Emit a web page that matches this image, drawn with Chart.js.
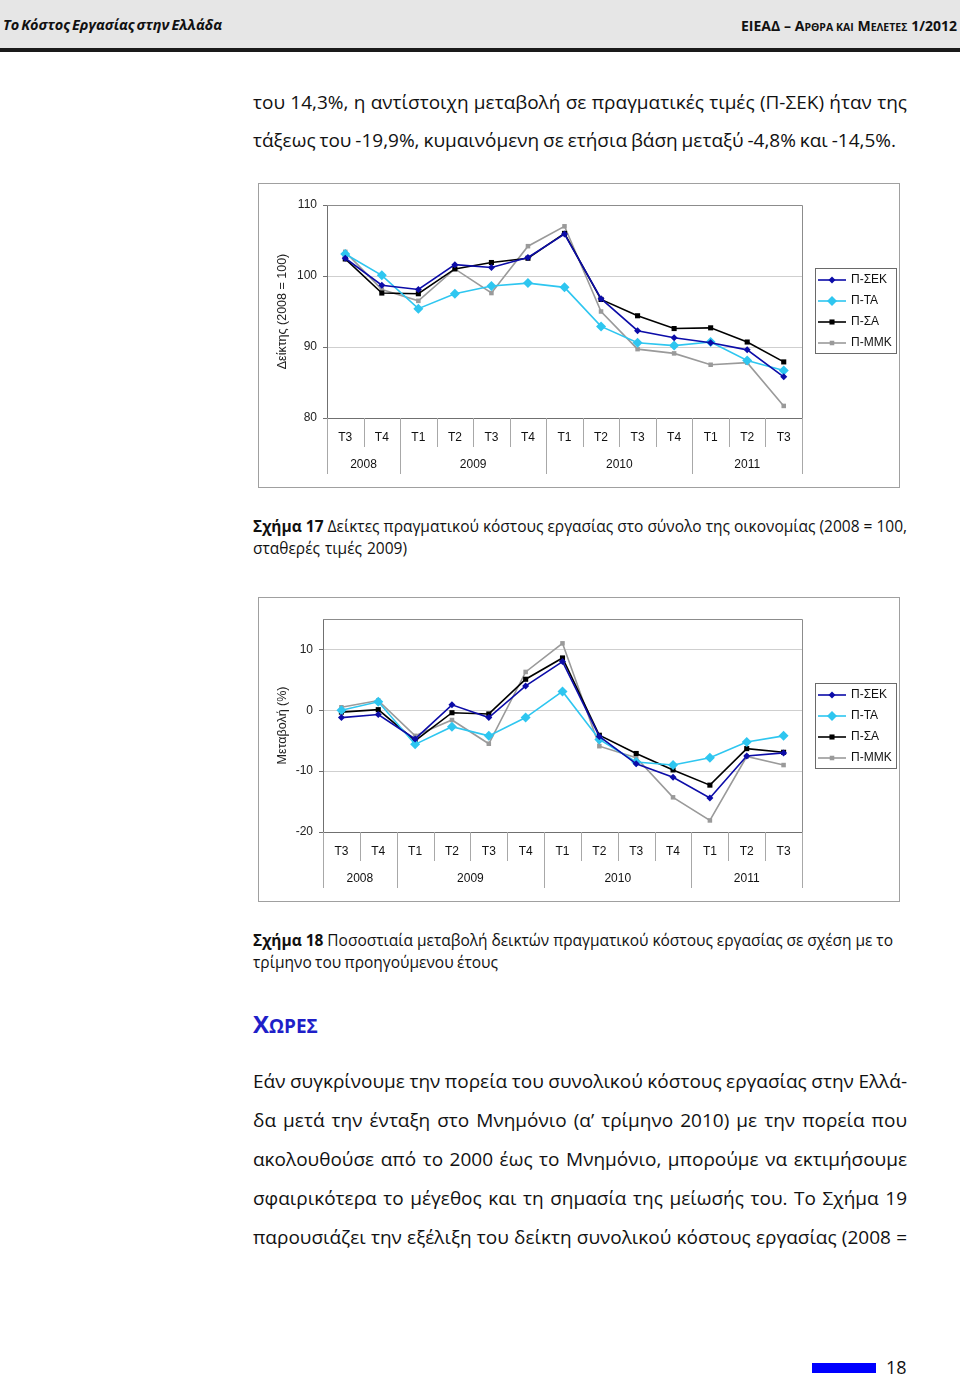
<!DOCTYPE html>
<html lang="el">
<head>
<meta charset="utf-8">
<title>Το Κόστος Εργασίας στην Ελλάδα</title>
<script src="https://cdn.jsdelivr.net/npm/chart.js@4.4.1/dist/chart.umd.min.js"></script>
<style>
html, body { margin: 0; padding: 0; background: #fff; }
#page { position: relative; width: 960px; height: 1377px; overflow: hidden; font-family: 'Open Sans', 'Noto Sans', sans-serif; color: #111; }
.hdr { position: absolute; left: 0; top: 0; width: 960px; height: 48px; background: #e6e6e6; }
.hdrline { position: absolute; left: 0; top: 48px; width: 960px; height: 4px; background: #1a1a1a; }
.ln { position: absolute; white-space: nowrap; line-height: 1; }
.body { left: 253px; font-size: 19px; }
.cap { left: 253px; font-size: 15.5px; }
.sc { font-size: 10.5px; }
canvas { position: absolute; }
</style>
</head>
<body>
<div id="page">
  <div class="hdr"></div>
  <div class="hdrline"></div>
  <div class="ln" data-w="219" style="left:3px;top:18px;font-size:14.5px;font-weight:700;font-style:italic;">Το Κόστος Εργασίας στην Ελλάδα</div>
  <div class="ln" data-w="216" style="right:3px;top:19px;font-size:14px;font-weight:700;">ΕΙΕΑΔ – Α<span class="sc">ΡΘΡΑ ΚΑΙ</span> Μ<span class="sc">ΕΛΕΤΕΣ</span> 1/2012</div>

  <div class="ln body" data-w="654" style="top:93px;">του 14,3%, η αντίστοιχη μεταβολή σε πραγματικές τιμές (Π-ΣΕΚ) ήταν της</div>
  <div class="ln body" data-w="643" style="top:131px;">τάξεως του -19,9%, κυμαινόμενη σε ετήσια βάση μεταξύ -4,8% και -14,5%.</div>

  <canvas id="chart1" width="642" height="305" style="left:258px;top:183px;"></canvas>

  <div class="ln cap" data-w="654" style="top:519px;"><b>Σχήμα 17</b> Δείκτες πραγματικού κόστους εργασίας στο σύνολο της οικονομίας (2008 = 100,</div>
  <div class="ln cap" data-w="154" style="top:541px;">σταθερές τιμές 2009)</div>

  <canvas id="chart2" width="642" height="305" style="left:258px;top:597px;"></canvas>

  <div class="ln cap" data-w="640" style="top:933px;"><b>Σχήμα 18</b> Ποσοστιαία μεταβολή δεικτών πραγματικού κόστους εργασίας σε σχέση με το</div>
  <div class="ln cap" data-w="245" style="top:955px;">τρίμηνο του προηγούμενου έτους</div>

  <div class="ln" style="left:253px;top:1012px;font-size:24px;font-weight:700;color:#1f1fc8;">Χ<span style="font-size:19px;">ΩΡΕΣ</span></div>

  <div class="ln body" data-w="654" style="top:1072px;">Εάν συγκρίνουμε την πορεία του συνολικού κόστους εργασίας στην Ελλά-</div>
  <div class="ln body" data-w="654" style="top:1111px;">δα μετά την ένταξη στο Μνημόνιο (α’ τρίμηνο 2010) με την πορεία που</div>
  <div class="ln body" data-w="654" style="top:1150px;">ακολουθούσε από το 2000 έως το Μνημόνιο, μπορούμε να εκτιμήσουμε</div>
  <div class="ln body" data-w="654" style="top:1189px;">σφαιρικότερα το μέγεθος και τη σημασία της μείωσής του. Το Σχήμα 19</div>
  <div class="ln body" data-w="654" style="top:1228px;">παρουσιάζει την εξέλιξη του δείκτη συνολικού κόστους εργασίας (2008 =</div>

  <div style="position:absolute;left:812px;top:1363px;width:64px;height:10px;background:#0000ff;"></div>
  <div class="ln" style="left:886px;top:1358px;font-size:18px;">18</div>
</div>

<script>
// --- DATA ---
const quarterLabels = ['Τ3', 'Τ4', 'Τ1', 'Τ2', 'Τ3', 'Τ4', 'Τ1', 'Τ2', 'Τ3', 'Τ4', 'Τ1', 'Τ2', 'Τ3'];
const yearLabels = ['2008', '2009', '2010', '2011'];
const yearSizes = [2, 4, 4, 3];
const seriesNames = ['Π-ΣΕΚ', 'Π-ΤΑ', 'Π-ΣΑ', 'Π-ΜΜΚ'];

// Σχήμα 17: δείκτες (2008 = 100)
const indexSEK = [102.5, 98.7, 98.1, 101.6, 101.2, 102.6, 105.9, 96.8, 92.3, 91.3, 90.6, 89.6, 85.8];
const indexTA  = [103.1, 100.1, 95.4, 97.5, 98.6, 99.0, 98.4, 92.9, 90.6, 90.2, 90.7, 88.1, 86.7];
const indexSA  = [102.4, 97.6, 97.5, 101.0, 101.9, 102.5, 106.0, 96.7, 94.4, 92.6, 92.7, 90.7, 87.9];
const indexMMK = [103.4, 98.1, 96.5, 101.0, 97.6, 104.2, 107.0, 95.0, 89.7, 89.1, 87.5, 87.8, 81.7];
const indexTicks = [80, 90, 100, 110];

// Σχήμα 18: μεταβολή (%)
const changeSEK = [-1.2, -0.7, -4.7, 0.9, -1.2, 4.0, 8.0, -4.3, -8.8, -11.0, -14.4, -7.5, -7.0];
const changeTA  = [0.0, 1.4, -5.6, -2.7, -4.2, -1.2, 3.1, -4.8, -8.5, -9.0, -7.8, -5.2, -4.2];
const changeSA  = [-0.3, 0.1, -5.0, -0.4, -0.6, 5.1, 8.6, -4.1, -7.1, -9.8, -12.3, -6.3, -6.9];
const changeMMK = [0.5, 1.6, -4.2, -1.6, -5.5, 6.3, 11.0, -5.9, -7.8, -14.3, -18.1, -7.6, -9.0];
const changeTicks = [-20, -10, 0, 10];

// --- STYLE ---
const FONT = "'Liberation Sans', Arial, sans-serif";
const seriesStyle = [
    { color: '#0c0ca8', point: 'rectRot', r: 3.5 },
    { color: '#2ec6f0', point: 'rectRot', r: 5 },
    { color: '#000000', point: 'rect', r: 3.6 },
    { color: '#9a9a9a', point: 'rect', r: 3.2 }
];

function drawMarker(ctx, style, x, y, r, color) {
    ctx.fillStyle = color;
    ctx.beginPath();
    if (style === 'rectRot') {
        ctx.moveTo(x, y - r); ctx.lineTo(x + r, y); ctx.lineTo(x, y + r); ctx.lineTo(x - r, y);
        ctx.closePath();
    } else {
        const h = r * Math.SQRT1_2;
        ctx.rect(x - h, y - h, 2 * h, 2 * h);
    }
    ctx.fill();
}

// frame, plot border, two-level category axis and legend, Excel style
function excelLook(legendTop) {
    return {
        id: 'excelLook',
        afterDraw(chart) {
            const ctx = chart.ctx, a = chart.chartArea, xs = chart.scales.x;
            ctx.save();
            ctx.lineWidth = 1;
            ctx.strokeStyle = '#a0a0a0';
            ctx.strokeRect(0.5, 0.5, chart.width - 1, chart.height - 1);

            ctx.strokeStyle = '#8c8c8c';
            ctx.beginPath();
            ctx.moveTo(a.left, Math.round(a.top) + 0.5);
            ctx.lineTo(Math.round(a.right) + 0.5, Math.round(a.top) + 0.5);
            ctx.lineTo(Math.round(a.right) + 0.5, a.bottom);
            ctx.stroke();

            const n = quarterLabels.length;
            const bounds = [];
            for (let b = 0; b <= n; b++) {
                if (b === 0) bounds.push(a.left);
                else if (b === n) bounds.push(a.right);
                else bounds.push((xs.getPixelForValue(b - 1) + xs.getPixelForValue(b)) / 2);
            }
            const groupEdges = [0];
            yearSizes.reduce((s, v) => { groupEdges.push(s + v); return s + v; }, 0);

            ctx.strokeStyle = '#a8a8a8';
            bounds.forEach((px, b) => {
                const long = groupEdges.includes(b);
                const xx = Math.round(px) + 0.5;
                ctx.beginPath();
                ctx.moveTo(xx, a.bottom);
                ctx.lineTo(xx, a.bottom + (long ? 56 : 29));
                ctx.stroke();
            });

            ctx.fillStyle = '#111';
            ctx.font = '12px ' + FONT;
            ctx.textAlign = 'center';
            ctx.textBaseline = 'middle';
            quarterLabels.forEach((q, i) => ctx.fillText(q, xs.getPixelForValue(i), a.bottom + 20));
            let start = 0;
            yearLabels.forEach((yl, g) => {
                const end = start + yearSizes[g];
                ctx.fillText(yl, (bounds[start] + bounds[end]) / 2, a.bottom + 47);
                start = end;
            });

            // legend
            const lx = 557;
            ctx.strokeStyle = '#6a6a6a';
            ctx.strokeRect(lx + 0.5, legendTop + 0.5, 81, 85);
            ctx.textAlign = 'left';
            chart.data.datasets.forEach((ds, i) => {
                const cy = legendTop + 12 + i * 21;
                const st = seriesStyle[i];
                ctx.strokeStyle = st.color;
                ctx.lineWidth = ds.borderWidth;
                ctx.beginPath();
                ctx.moveTo(lx + 3, cy); ctx.lineTo(lx + 31, cy);
                ctx.stroke();
                drawMarker(ctx, st.point, lx + 17, cy, st.r, st.color);
                ctx.fillStyle = '#111';
                ctx.fillText(ds.label, lx + 36, cy);
            });
            ctx.restore();
        }
    };
}

function buildChart(id, series, yMin, yMax, yTicks, yTitle, yWidth, xHeight, legendTop) {
    return new Chart(document.getElementById(id), {
        type: 'line',
        data: {
            labels: quarterLabels,
            datasets: series.map((vals, i) => ({
                label: seriesNames[i],
                data: vals,
                borderColor: seriesStyle[i].color,
                backgroundColor: seriesStyle[i].color,
                pointBackgroundColor: seriesStyle[i].color,
                pointBorderColor: seriesStyle[i].color,
                pointStyle: seriesStyle[i].point,
                pointRadius: seriesStyle[i].r,
                pointBorderWidth: 0,
                borderWidth: 1.6,
                tension: 0,
                fill: false
            }))
        },
        options: {
            responsive: false,
            animation: false,
            devicePixelRatio: 1,
            layout: { padding: { top: 22, right: 98, left: 0, bottom: 0 } },
            plugins: { legend: { display: false }, tooltip: { enabled: false } },
            scales: {
                x: {
                    offset: true,
                    grid: { display: false },
                    ticks: { display: false },
                    border: { color: '#707070', width: 1 },
                    afterFit: s => { s.height = xHeight; }
                },
                y: {
                    min: yMin,
                    max: yMax,
                    afterBuildTicks: s => { s.ticks = yTicks.map(v => ({ value: v })); },
                    grid: { color: '#cfcfcf', tickColor: '#707070', tickLength: 4, lineWidth: 1 },
                    border: { color: '#707070', width: 1 },
                    ticks: { padding: 6, color: '#222', font: { family: FONT, size: 12 } },
                    title: { display: true, text: yTitle, color: '#222', font: { family: FONT, size: 12.5 }, padding: { top: 17, bottom: 0 } },
                    afterFit: s => { s.width = yWidth; }
                }
            }
        },
        plugins: [excelLook(legendTop)]
    });
}

// --- TEXT FIT ---
function fitLines() {
    document.querySelectorAll('.ln[data-w]').forEach(el => {
        const target = +el.dataset.w;
        const nat = el.getBoundingClientRect().width;
        const txt = el.textContent;
        const spaces = (txt.match(/ /g) || []).length;
        const diff = target - nat;
        if (spaces && diff / spaces > -2.5) el.style.wordSpacing = (diff / spaces) + 'px';
        else el.style.letterSpacing = (diff / txt.length) + 'px';
    });
}

// --- PAGE INIT ---
window.onload = function() {
    fitLines();
    buildChart('chart1', [indexSEK, indexTA, indexSA, indexMMK], 80, 110, indexTicks,
        'Δείκτης (2008 = 100)', 69, 70, 85);
    buildChart('chart2', [changeSEK, changeTA, changeSA, changeMMK], -20, 15, changeTicks,
        'Μεταβολή (%)', 65, 70, 86);
};
</script>
</body>
</html>
